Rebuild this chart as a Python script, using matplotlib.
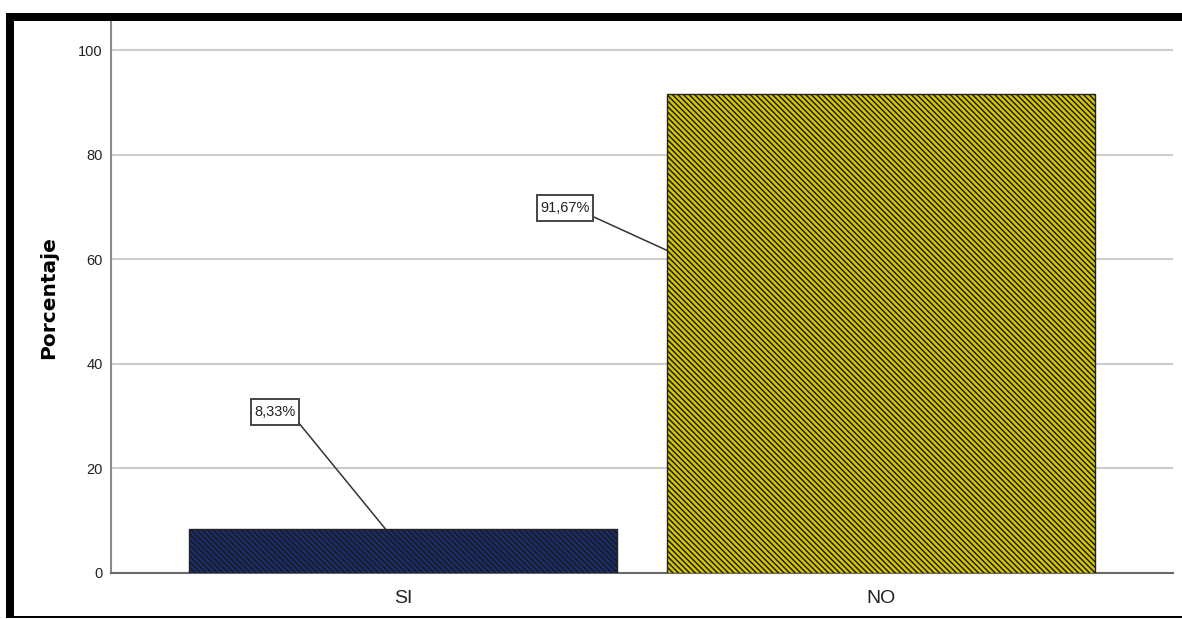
import matplotlib
matplotlib.use("Agg")
import matplotlib.pyplot as plt
from matplotlib.patches import Rectangle
from matplotlib.path import Path

categories = ["SI", "NO"]
values = [8.33, 91.67]
value_labels = ["8,33%", "91,67%"]
bar_colors = ["#1b2d6b", "#d6c600"]
yticks = [0, 20, 40, 60, 80, 100]

W, H = 1182, 619
plt.rcParams['hatch.linewidth'] = 1.05
plt.rcParams['font.family'] = ['Liberation Sans', 'DejaVu Sans']

fig = plt.figure(figsize=(W / 100, H / 100), dpi=100)
fig.patch.set_facecolor('white')

def fx(px):
    return px / W

def fy(py):
    return 1 - py / H

ax = fig.add_axes([fx(111), fy(573), fx(1173) - fx(111), fy(22) - fy(573)])

x = list(range(len(categories)))
bars = ax.bar(x, values, width=0.895, color=bar_colors, edgecolor='#222222',
              linewidth=1.0, hatch='\\' * 6, zorder=3)
for b in bars:
    b._hatch_color = matplotlib.colors.to_rgba('#1a1a1a')

ax.set_xlim(-0.611, 1.611)
ax.set_ylim(0, 105.4)
ax.set_yticks(yticks)
ax.set_yticklabels([str(t) for t in yticks], fontsize=10.5, color='#222222')
ax.set_xticks(x)
ax.set_xticklabels(categories, fontsize=14, color='#222222')
ax.tick_params(axis='both', length=0, pad=6)
ax.tick_params(axis='x', pad=12)

ax.yaxis.grid(True, color='#cccccc', linewidth=1.5, zorder=0)
ax.set_axisbelow(True)
for s in ['top', 'right']:
    ax.spines[s].set_visible(False)
ax.spines['left'].set_color('#8a8a8a')
ax.spines['bottom'].set_color('#6a6a6a')
ax.spines['left'].set_linewidth(1.5)
ax.spines['bottom'].set_linewidth(1.5)

ax.set_ylabel("Porcentaje", fontsize=14.5, fontweight='bold',
              family=['DejaVu Sans'], labelpad=14)


def tall_box(x0, y0, width, height, mutation_size):
    padx = 0.22 * mutation_size
    pady = 0.42 * mutation_size
    x0, y0 = x0 - padx, y0 - pady
    x1, y1 = x0 + width + 2 * padx, y0 + height + 2 * pady
    return Path([(x0, y0), (x1, y0), (x1, y1), (x0, y1), (x0, y0)],
                closed=True)


# label annotations: (text position, line end point)
label_pos = [(-0.268, 30.8), (0.339, 69.8)]
line_end = [(-0.036, values[0]), (1 - 0.895 / 2, 61.7)]
for i in range(len(categories)):
    ax.annotate(value_labels[i], xy=line_end[i], xytext=label_pos[i],
                ha='center', va='center', fontsize=10.5, color='#222222',
                bbox=dict(boxstyle=tall_box, fc='white', ec='#444444', lw=1.4),
                arrowprops=dict(arrowstyle='-', color='#333333', lw=1.1,
                                relpos=(1, 0), shrinkA=0, shrinkB=0),
                zorder=5)

# outer frame (top, left thick; bottom thin)
fig.add_artist(Rectangle((fx(7), fy(21)), 1 - fx(7), fy(13) - fy(21),
                         transform=fig.transFigure, color='black', lw=0))
fig.add_artist(Rectangle((fx(6), fy(618)), fx(14) - fx(6), fy(13) - fy(618),
                         transform=fig.transFigure, color='black', lw=0))
fig.add_artist(Rectangle((fx(6), fy(618)), 1 - fx(6), fy(616) - fy(618),
                         transform=fig.transFigure, color='black', lw=0))

fig.savefig("out.png", dpi=100, facecolor='white')
